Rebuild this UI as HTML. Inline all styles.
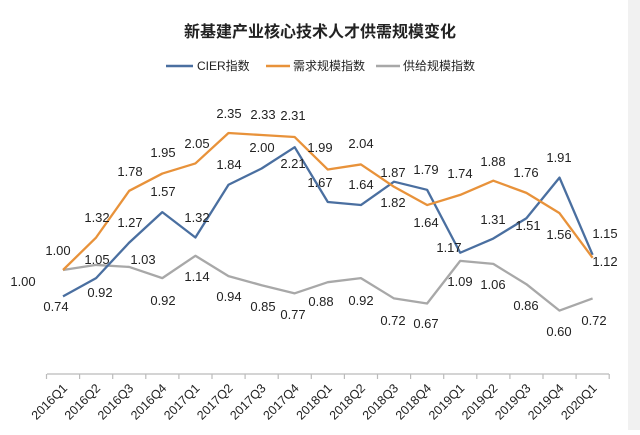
<!DOCTYPE html>
<html><head><meta charset="utf-8"><style>
body{margin:0;background:#fff}
svg text{font-family:"Liberation Sans","Noto Sans CJK SC",sans-serif}
</style></head><body>
<svg width="640" height="430" xmlns="http://www.w3.org/2000/svg">
<rect width="640" height="430" fill="#fff"/>
<rect x="628" y="0" width="12" height="430" fill="#f1f1f1"/>
<text x="320" y="37" text-anchor="middle" font-size="16" font-weight="bold" fill="#222">新基建产业核心技术人才供需规模变化</text>
<g font-size="12" fill="#222">
<line x1="166" y1="66" x2="193" y2="66" stroke="#4a6fa0" stroke-width="2.5"/><text x="197" y="70">CIER指数</text>
<line x1="266" y1="66" x2="290" y2="66" stroke="#e8923a" stroke-width="2.5"/><text x="293" y="70">需求规模指数</text>
<line x1="376" y1="66" x2="400" y2="66" stroke="#a8a8a8" stroke-width="2.5"/><text x="403" y="70">供给规模指数</text>
</g>
<g id="axis" stroke="#bbb" stroke-width="1.2"></g>
<g id="lines" fill="none" stroke-width="2.3" stroke-linejoin="round"></g>
<g id="labels" font-size="13" fill="#222" text-anchor="middle"></g>
<g id="ticks" font-size="12.5" fill="#222" text-anchor="end"></g>
<script>
var ns="http://www.w3.org/2000/svg";
function X(i){return 63+33.1*i}
function Y(v){return 270-(v-1)*101.5}
var d={"#4a6fa0":[0.74,0.92,1.27,1.57,1.32,1.84,2.00,2.21,1.67,1.64,1.87,1.79,1.17,1.31,1.51,1.91,1.15],
"#e8923a":[1.00,1.32,1.78,1.95,2.05,2.35,2.33,2.31,1.99,2.04,1.82,1.64,1.74,1.88,1.76,1.56,1.12],
"#a8a8a8":[1.00,1.05,1.03,0.92,1.14,0.94,0.85,0.77,0.88,0.92,0.72,0.67,1.09,1.06,0.86,0.60,0.72]};
var g=document.getElementById("lines");
["#a8a8a8","#4a6fa0","#e8923a"].forEach(function(c){var p=document.createElementNS(ns,"polyline");
p.setAttribute("points",d[c].map(function(v,i){return X(i)+","+Y(v)}).join(" "));p.setAttribute("stroke",c);g.appendChild(p);});
var a=document.getElementById("axis");
function ln(x1,y1,x2,y2){var l=document.createElementNS(ns,"line");l.setAttribute("x1",x1);l.setAttribute("y1",y1);l.setAttribute("x2",x2);l.setAttribute("y2",y2);a.appendChild(l);}
ln(47,374,609,374);for(var i=0;i<=17;i++){ln(X(i)-16.5,374,X(i)-16.5,379);}
var q=["2016Q1","2016Q2","2016Q3","2016Q4","2017Q1","2017Q2","2017Q3","2017Q4","2018Q1","2018Q2","2018Q3","2018Q4","2019Q1","2019Q2","2019Q3","2019Q4","2020Q1"];
var t=document.getElementById("ticks");
q.forEach(function(s,i){var e=document.createElementNS(ns,"text");var x=X(i)+5,y=389;e.setAttribute("x",x);e.setAttribute("y",y);e.setAttribute("transform","rotate(-45 "+x+" "+y+")");e.textContent=s;t.appendChild(e);});
var L=[["1.00",58,250],["1.00",23,281],["0.74",56,306],["1.05",97,259],["0.92",100,292],["1.32",97,217],["1.27",130,222],["1.78",130,171],["1.03",143,259],["1.95",163,152],["1.57",163,191],["0.92",163,300],["2.05",197,143],["1.32",197,217],["1.14",197,276],["2.35",229,113],["1.84",229,164],["0.94",229,296],["2.33",263,114],["2.00",262,147],["0.85",263,306],["2.31",293,115],["2.21",293,163],["0.77",293,314],["1.99",320,147],["1.67",320,182],["0.88",321,301],["2.04",361,143],["1.64",361,184],["0.92",361,300],["1.87",393,172],["1.82",393,202],["0.72",393,320],["1.79",426,169],["1.64",426,222],["0.67",426,323],["1.74",460,173],["1.17",449,247],["1.09",460,281],["1.88",493,161],["1.31",493,219],["1.06",493,284],["1.76",526,172],["1.51",528,225],["0.86",526,305],["1.91",559,157],["1.56",559,234],["0.60",559,331],["0.72",594,320],["1.15",605,233],["1.12",605,261]];
var lb=document.getElementById("labels");
L.forEach(function(o){var e=document.createElementNS(ns,"text");e.setAttribute("x",o[1]);e.setAttribute("y",o[2]+5);e.textContent=o[0];lb.appendChild(e);});
</script>
</svg>
</body></html>
